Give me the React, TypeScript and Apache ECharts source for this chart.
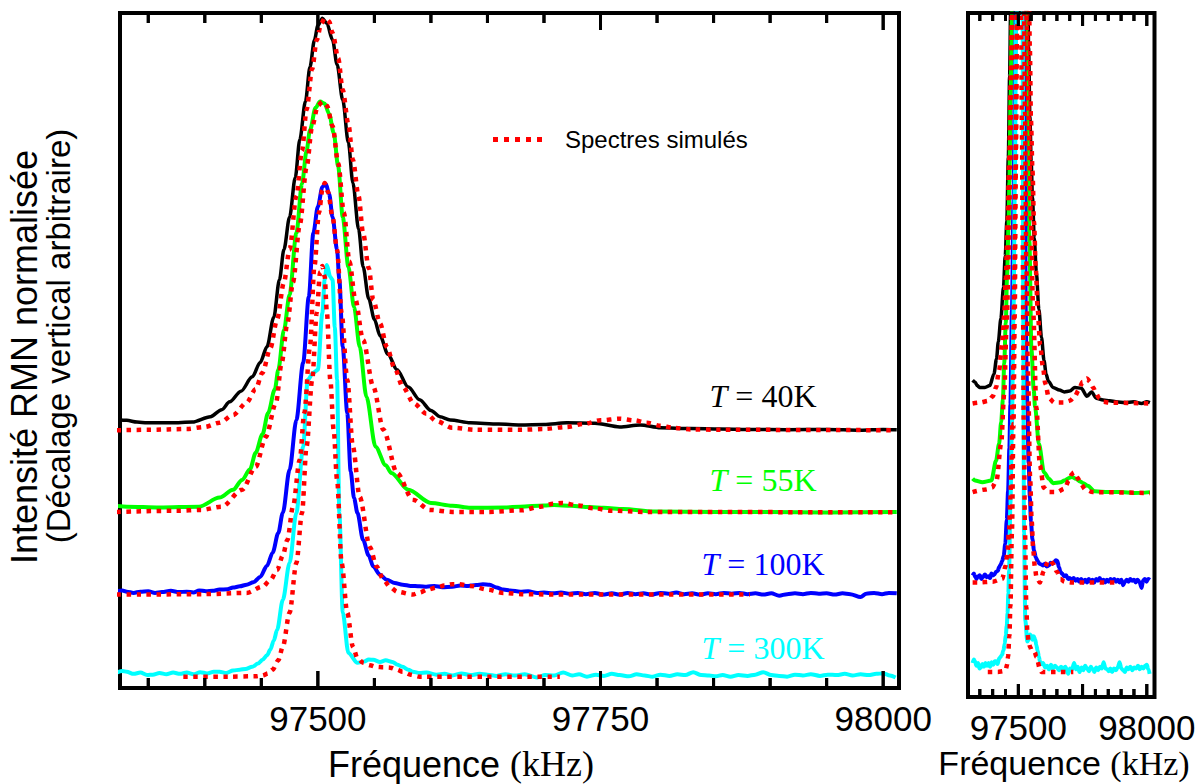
import React, { useEffect, useRef } from 'react';
import * as echarts from 'echarts';

// ---------- data (frequency kHz, normalised intensity) ----------
const temperatures = ['40K', '55K', '100K', '300K'];
const expColors = ['#000000', '#00ff00', '#0000ff', '#00ffff'];
const simColor = '#ff0000';
const mainOffsets = [0.6, 0.4, 0.2, 0];
const insetOffsets = [0.3, 0.2, 0.1, 0];

const exp40K = [
  [97322, 0.026], [97331, 0.024], [97340, 0.020], [97349, 0.018], [97370, 0.018], [97389, 0.020], [97405, 0.033],
  [97415, 0.050], [97422, 0.069], [97432, 0.095], [97442, 0.130], [97449, 0.165], [97455, 0.203], [97461, 0.275],
  [97466, 0.366], [97470, 0.440], [97475, 0.519], [97480, 0.615], [97484, 0.707], [97489, 0.800], [97493, 0.884],
  [97497, 0.950], [97500, 0.985], [97504, 1.003], [97508, 0.990], [97513, 0.950], [97517, 0.890], [97522, 0.804],
  [97527, 0.700], [97531, 0.602], [97536, 0.490], [97540, 0.398], [97545, 0.320], [97550, 0.270], [97555, 0.230],
  [97562, 0.185], [97570, 0.147], [97580, 0.105], [97590, 0.074], [97600, 0.048], [97608, 0.033], [97617, 0.025],
  [97635, 0.018], [97660, 0.015], [97679, 0.013], [97700, 0.014], [97720, 0.018], [97745, 0.017], [97767, 0.008],
  [97785, 0.013], [97803, 0.006], [97830, 0.004], [97856, 0.003], [97880, 0.002], [97915, 0.001], [97950, 0.002],
  [97980, 0.000], [98000, 0.002], [98012, 0.001],
];

const sim40K = [
  [97322, 0.000], [97350, 0.001], [97384, 0.003], [97400, 0.008], [97413, 0.018], [97425, 0.037], [97437, 0.067],
  [97445, 0.100], [97451, 0.140], [97458, 0.200], [97464, 0.270], [97470, 0.360], [97475, 0.440], [97481, 0.570],
  [97486, 0.680], [97490, 0.780], [97495, 0.880], [97499, 0.950], [97503, 0.990], [97506, 1.003], [97510, 0.995],
  [97513, 0.967], [97518, 0.905], [97522, 0.828], [97527, 0.745], [97531, 0.658], [97536, 0.570], [97540, 0.480],
  [97545, 0.395], [97549, 0.317], [97555, 0.260], [97561, 0.203], [97568, 0.150], [97575, 0.106], [97585, 0.065],
  [97596, 0.040], [97605, 0.022], [97619, 0.006], [97640, 0.001], [97679, 0.001], [97700, 0.003], [97720, 0.008],
  [97735, 0.015], [97750, 0.024], [97767, 0.028], [97780, 0.024], [97791, 0.018], [97803, 0.011], [97814, 0.006],
  [97830, 0.002], [97856, 0.001], [98010, 0.000],
];

const exp55K = [
  [97322, 0.016], [97331, 0.014], [97360, 0.012], [97395, 0.014], [97413, 0.036], [97425, 0.055], [97433, 0.079],
  [97440, 0.105], [97445, 0.145], [97451, 0.190], [97456, 0.242], [97462, 0.300], [97465, 0.347], [97470, 0.444],
  [97475, 0.530], [97481, 0.680], [97486, 0.800], [97490, 0.880], [97493, 0.930], [97498, 0.985], [97502, 1.000],
  [97506, 0.995], [97510, 0.970], [97514, 0.924], [97518, 0.841], [97522, 0.719], [97527, 0.598], [97532, 0.500],
  [97537, 0.403], [97543, 0.281], [97551, 0.160], [97560, 0.115], [97565, 0.096], [97580, 0.055], [97600, 0.023],
  [97619, 0.016], [97635, 0.011], [97665, 0.012], [97679, 0.014], [97700, 0.017], [97709, 0.018], [97724, 0.016],
  [97740, 0.013], [97753, 0.011], [97770, 0.008], [97797, 0.002], [97850, 0.001], [97900, 0.001], [97950, 0.000],
  [98012, 0.001],
];

const sim55K = [
  [97322, 0.001], [97375, 0.004], [97397, 0.006], [97415, 0.014], [97433, 0.055], [97445, 0.111], [97454, 0.184],
  [97463, 0.267], [97468, 0.364], [97473, 0.460], [97478, 0.560], [97484, 0.700], [97490, 0.840], [97495, 0.940],
  [97500, 0.990], [97504, 1.000], [97508, 0.990], [97513, 0.940], [97518, 0.850], [97523, 0.730], [97528, 0.610],
  [97533, 0.520], [97540, 0.420], [97549, 0.306], [97558, 0.201], [97570, 0.096], [97584, 0.031], [97599, 0.006],
  [97619, 0.001], [97650, 0.001], [97680, 0.005], [97697, 0.014], [97708, 0.021], [97716, 0.023], [97730, 0.017],
  [97744, 0.010], [97760, 0.004], [97790, 0.001], [98012, 0.000],
];

const exp100K = [
  [97322, 0.008], [97327, 0.010], [97331, 0.007], [97337, 0.004], [97343, 0.007], [97350, 0.008], [97356, 0.004],
  [97362, 0.006], [97370, 0.009], [97377, 0.006], [97384, 0.007], [97390, 0.005], [97395, 0.010], [97401, 0.008],
  [97407, 0.009], [97413, 0.012], [97420, 0.013], [97425, 0.017], [97431, 0.020], [97437, 0.024], [97443, 0.030],
  [97449, 0.043], [97455, 0.070], [97460, 0.102], [97465, 0.150], [97469, 0.199], [97475, 0.304], [97481, 0.425],
  [97487, 0.564], [97492, 0.725], [97496, 0.880], [97500, 0.944], [97504, 0.992], [97507, 1.000], [97510, 0.975],
  [97513, 0.919], [97517, 0.839], [97519, 0.766], [97522, 0.603], [97526, 0.442], [97529, 0.300], [97532, 0.235],
  [97535, 0.199], [97540, 0.133], [97545, 0.095], [97549, 0.068], [97555, 0.048], [97561, 0.036], [97568, 0.028],
  [97575, 0.024], [97582, 0.021], [97590, 0.020], [97596, 0.019], [97603, 0.021], [97610, 0.018], [97619, 0.019],
  [97626, 0.022], [97633, 0.021], [97640, 0.023], [97646, 0.025], [97652, 0.024], [97658, 0.017], [97664, 0.012],
  [97670, 0.010], [97679, 0.007], [97686, 0.008], [97694, 0.004], [97700, 0.005], [97708, 0.003], [97715, 0.005],
  [97723, 0.002], [97730, 0.004], [97737, 0.001], [97745, 0.004], [97752, 0.000], [97760, 0.003], [97767, 0.000],
  [97774, 0.004], [97781, 0.001], [97788, 0.003], [97795, 0.000], [97803, 0.004], [97810, 0.002], [97817, 0.005],
  [97824, 0.001], [97831, 0.003], [97838, 0.000], [97845, 0.003], [97852, 0.001], [97859, 0.004], [97866, 0.002],
  [97873, 0.004], [97880, 0.001], [97887, 0.003], [97894, 0.000], [97901, 0.003], [97908, -0.003], [97915, 0.001],
  [97922, 0.003], [97929, 0.001], [97936, 0.004], [97943, 0.002], [97950, 0.003], [97957, 0.000], [97964, 0.003],
  [97971, 0.001], [97980, -0.006], [97985, 0.002], [97992, 0.004], [97999, 0.001], [98005, 0.004], [98012, 0.003],
];

const sim100K = [
  [97322, 0.000], [97342, 0.000], [97400, 0.001], [97437, 0.004], [97451, 0.019], [97458, 0.035], [97464, 0.060],
  [97469, 0.095], [97473, 0.133], [97478, 0.214], [97484, 0.328], [97488, 0.442], [97493, 0.603], [97497, 0.800],
  [97501, 0.930], [97504, 0.985], [97506, 1.002], [97509, 0.980], [97513, 0.919], [97517, 0.839], [97521, 0.686],
  [97526, 0.523], [97531, 0.360], [97537, 0.238], [97546, 0.116], [97552, 0.068], [97558, 0.036], [97564, 0.018],
  [97570, 0.007], [97584, 0.000], [97590, 0.005], [97597, 0.012], [97605, 0.017], [97612, 0.022], [97619, 0.025],
  [97625, 0.025], [97635, 0.021], [97650, 0.012], [97664, 0.004], [97680, 0.001], [97708, 0.000], [97882, 0.000],
];

const exp300K = [
  [97322, 0.010], [97327, 0.014], [97331, 0.012], [97337, 0.007], [97343, 0.010], [97349, 0.004], [97354, 0.005],
  [97360, 0.009], [97366, 0.006], [97372, 0.010], [97378, 0.007], [97384, 0.010], [97390, 0.006], [97396, 0.011],
  [97402, 0.008], [97408, 0.012], [97413, 0.012], [97419, 0.009], [97425, 0.015], [97431, 0.017], [97436, 0.019],
  [97442, 0.024], [97447, 0.032], [97451, 0.041], [97455, 0.052], [97458, 0.066], [97461, 0.088], [97464, 0.114],
  [97469, 0.187], [97475, 0.277], [97481, 0.399], [97487, 0.560], [97491, 0.723], [97496, 0.740], [97500, 0.747],
  [97504, 0.886], [97506, 0.966], [97508, 1.002], [97511, 0.973], [97513, 0.966], [97515, 0.850], [97517, 0.723],
  [97519, 0.399], [97522, 0.156], [97527, 0.058], [97535, 0.034], [97541, 0.037], [97545, 0.042], [97549, 0.041],
  [97555, 0.036], [97560, 0.040], [97566, 0.036], [97570, 0.030], [97575, 0.024], [97580, 0.017], [97584, 0.012],
  [97590, 0.009], [97596, 0.010], [97605, 0.005], [97612, 0.007], [97619, 0.003], [97627, 0.008], [97635, 0.004],
  [97643, 0.007], [97650, 0.005], [97658, 0.002], [97666, 0.006], [97674, 0.003], [97683, 0.006], [97694, -0.002],
  [97701, 0.004], [97709, 0.003], [97717, 0.010], [97725, 0.003], [97731, 0.006], [97738, 0.000], [97746, 0.005],
  [97753, 0.002], [97760, 0.007], [97767, 0.004], [97775, 0.001], [97782, 0.006], [97789, 0.003], [97796, 0.000],
  [97803, 0.005], [97811, 0.002], [97818, 0.006], [97825, 0.004], [97832, 0.011], [97839, 0.004], [97846, 0.003],
  [97852, 0.001], [97858, 0.004], [97865, 0.000], [97872, 0.004], [97880, 0.002], [97887, 0.005], [97894, 0.011],
  [97901, 0.004], [97908, 0.002], [97915, 0.000], [97922, 0.005], [97929, 0.003], [97936, 0.006], [97944, 0.002],
  [97951, 0.005], [97959, 0.004], [97966, 0.007], [97973, 0.003], [97980, 0.006], [97987, 0.004], [97994, 0.007],
  [98000, 0.008], [98006, 0.003], [98011, -0.002],
];

const sim300K = [
  [97381, 0.000], [97420, 0.000], [97445, 0.001], [97451, 0.003], [97456, 0.008], [97460, 0.017], [97465, 0.040],
  [97469, 0.073], [97475, 0.156], [97481, 0.277], [97486, 0.399], [97490, 0.560], [97495, 0.723], [97499, 0.886],
  [97502, 0.985], [97504, 1.000], [97506, 0.975], [97508, 0.886], [97511, 0.723], [97514, 0.600], [97517, 0.479],
  [97521, 0.277], [97526, 0.156], [97531, 0.073], [97535, 0.045], [97540, 0.034], [97546, 0.028], [97552, 0.024],
  [97558, 0.023], [97564, 0.022], [97570, 0.017], [97575, 0.012], [97582, 0.005], [97590, 0.000], [97650, 0.000],
  [97714, 0.000],
];

// ---------- axis ticks / labels ----------
const mainTicks = [97350, 97400, 97450, 97500, 97550, 97600, 97650, 97700, 97750, 97800, 97850, 97900, 97950, 98000];
const mainMajorTicks = [97500, 97750, 98000];
const mainLabels = [97500, 97750, 98000];
const insetTicks = [97350, 97400, 97450, 97500, 97550, 97600, 97650, 97700, 97750, 97800, 97850, 97900, 97950, 98000];
const insetMajorTicks = [97500, 97750, 98000];
const insetLabels = [97500, 98000];

const expSets = [exp40K, exp55K, exp100K, exp300K];
const simSets = [sim40K, sim55K, sim100K, sim300K];
const expWidths = [3.5, 4, 4, 4];

const shift = (d: number[][], off: number) => d.map(([x, y]) => [x, y + off]);

const GRID_MAIN = { left: 120, top: 13, width: 779, height: 675 };
const GRID_INSET = { left: 968, top: 13, width: 186.5, height: 684 };
const MX0 = 97325, MX1 = 98014, IX0 = 97304, IX1 = 98030;
const MY0 = -0.0275, MY1 = 1.6156, IY0 = -0.0279, IY1 = 0.7363;

function labelAxis(gridIndex: number, min: number, max: number, labels: number[]) {
  return {
    type: 'value', gridIndex, position: 'bottom', min, max,
    axisLine: { show: false, onZero: false },
    splitLine: { show: false },
    axisTick: { show: false },
    axisLabel: {
      show: true, customValues: labels, fontSize: 35, fontFamily: 'Liberation Sans', color: '#000', margin: 16,
      lineHeight: 28, formatter: (v: number) => String(v),
    },
  };
}

function lineSeries(data: any[], xi: number, yi: number, color: string, width: number, dashed: boolean) {
  return {
    type: 'line', data, xAxisIndex: xi, yAxisIndex: yi,
    showSymbol: false, symbol: 'none', smooth: 0.3, smoothMonotone: 'x', clip: true, silent: true,
    lineStyle: { color, width, type: dashed ? [4.5, 5.5] : 'solid', cap: 'butt', join: 'round' },
    z: dashed ? 3 : 2,
  };
}

// frame edge with inward tick spikes, as one polyline per edge (bottom and top)
function edgeWithTicks(g: any, x0: number, x1: number, ticks: number[], majors: number[], minorLen: number, majorLen: number) {
  const toX = (v: number) => g.left + ((v - x0) / (x1 - x0)) * g.width;
  const bottom = g.top + g.height;
  const bPts: number[][] = [[g.left, bottom]];
  const tPts: number[][] = [[g.left, g.top]];
  ticks.forEach((v) => {
    const x = toX(v);
    const len = majors.includes(v) ? majorLen : minorLen;
    bPts.push([x, bottom], [x, bottom - len], [x, bottom]);
    tPts.push([x, g.top], [x, g.top + len], [x, g.top]);
  });
  bPts.push([g.left + g.width, bottom]);
  tPts.push([g.left + g.width, g.top]);
  return [
    { type: 'polyline', z: 30, shape: { points: bPts }, style: { stroke: '#000', lineWidth: 3, fill: null } },
    { type: 'polyline', z: 30, shape: { points: tPts }, style: { stroke: '#000', lineWidth: 3, fill: null } },
  ];
}

// same ticks as short two-point line series on the axis scales
function tickSeries(xi: number, yi: number, g: any, y0: number, y1: number, ticks: number[], majors: number[], minorLen: number, majorLen: number) {
  const perPx = (y1 - y0) / g.height;
  const out: any[] = [];
  ticks.forEach((v) => {
    const len = (majors.includes(v) ? majorLen : minorLen) * perPx;
    [[[v, y0], [v, y0 + len]], [[v, y1 - len], [v, y1]]].forEach((seg) => {
      out.push({
        type: 'line', data: seg, xAxisIndex: xi, yAxisIndex: yi,
        showSymbol: false, symbol: 'none', smooth: false, clip: false, silent: true, z: 6,
        lineStyle: { color: '#000', width: 3, type: 'solid', cap: 'butt' },
      });
    });
  });
  return out;
}

export default function App() {
  const ref = useRef<HTMLDivElement>(null);
  useEffect(() => {
    if (!ref.current) return;
    const chart = echarts.init(ref.current, undefined, { renderer: 'svg' });
    const series: any[] = [];
    expSets.forEach((d, i) => series.push(lineSeries(shift(d, mainOffsets[i]), 0, 0, expColors[i], expWidths[i], false)));
    simSets.forEach((d, i) => series.push(lineSeries(shift(d, mainOffsets[i]), 0, 0, simColor, 4.5, true)));
    expSets.forEach((d, i) => series.push(lineSeries(shift(d, insetOffsets[i]), 1, 1, expColors[i], expWidths[i], false)));
    simSets.forEach((d, i) => series.push(lineSeries(shift(d, insetOffsets[i]), 1, 1, simColor, 4.5, true)));
    series.push(...tickSeries(0, 0, GRID_MAIN, MY0, MY1, mainTicks, mainMajorTicks, 10, 17));
    series.push(...tickSeries(1, 1, GRID_INSET, IY0, IY1, insetTicks, insetMajorTicks, 8, 13));

    const tLabelY = [396, 480, 564, 648];
    const tLabels = temperatures.map((t, i) => ({
      type: 'text', x: 763, y: tLabelY[i], z: 10,
      style: {
        text: `{i|T}{n| = ${t}}`,
        align: 'center', verticalAlign: 'middle', textAlign: 'center', textVerticalAlign: 'middle',
        fill: expColors[i],
        rich: {
          i: { fontFamily: 'Liberation Serif', fontSize: 32, fontStyle: 'italic', fill: expColors[i] },
          n: { fontFamily: 'Liberation Serif', fontSize: 32, fill: expColors[i] },
        },
      },
    }));

    const graphic: any[] = [
      {
        type: 'text', x: 24.5, y: 357, rotation: Math.PI / 2, z: 10,
        style: { text: 'Intensité RMN normalisée', fontFamily: 'Liberation Sans', fontSize: 36, fill: '#000', align: 'center', verticalAlign: 'middle', textAlign: 'center', textVerticalAlign: 'middle' },
      },
      {
        type: 'text', x: 58, y: 336, rotation: Math.PI / 2, z: 10,
        style: { text: '(Décalage vertical arbitraire)', fontFamily: 'Liberation Sans', fontSize: 33, fill: '#000', align: 'center', verticalAlign: 'middle', textAlign: 'center', textVerticalAlign: 'middle' },
      },
      {
        type: 'line', z: 10,
        shape: { x1: 493, y1: 139.5, x2: 548, y2: 139.5 },
        style: { stroke: simColor, lineWidth: 5, lineDash: [5, 6] },
      },
      {
        type: 'text', x: 565, y: 139, z: 10,
        style: { text: 'Spectres simulés', fontFamily: 'Liberation Sans', fontSize: 24, fill: '#000', align: 'left', verticalAlign: 'middle', textAlign: 'left', textVerticalAlign: 'middle' },
      },
      ...tLabels,
      {
        type: 'text', x: 461, y: 764, z: 10,
        style: {
          text: '{s|Fréquence }{r|(kHz)}', align: 'center', verticalAlign: 'middle', textAlign: 'center', textVerticalAlign: 'middle',
          rich: {
            s: { fontFamily: 'Liberation Sans', fontSize: 36, fill: '#000' },
            r: { fontFamily: 'Liberation Serif', fontSize: 36, fill: '#000' },
          },
        },
      },
      {
        type: 'text', x: 1064, y: 763, z: 10,
        style: {
          text: '{s|Fréquence }{r|(kHz)}', align: 'center', verticalAlign: 'middle', textAlign: 'center', textVerticalAlign: 'middle',
          rich: {
            s: { fontFamily: 'Liberation Sans', fontSize: 34, fill: '#000' },
            r: { fontFamily: 'Liberation Serif', fontSize: 34, fill: '#000' },
          },
        },
      },
      ...edgeWithTicks(GRID_MAIN, MX0, MX1, mainTicks, mainMajorTicks, 10, 17),
      ...edgeWithTicks(GRID_INSET, IX0, IX1, insetTicks, insetMajorTicks, 8, 13),
    ];

    const option: any = {
      animation: false,
      backgroundColor: '#ffffff',
      grid: [
        { ...GRID_MAIN, show: true, borderColor: '#000', borderWidth: 4, backgroundColor: 'transparent' },
        { ...GRID_INSET, show: true, borderColor: '#000', borderWidth: 4, backgroundColor: 'transparent' },
      ],
      xAxis: [labelAxis(0, MX0, MX1, mainLabels), labelAxis(1, IX0, IX1, insetLabels)],
      yAxis: [
        { type: 'value', gridIndex: 0, min: MY0, max: MY1, show: false },
        { type: 'value', gridIndex: 1, min: IY0, max: IY1, show: false },
      ],
      series,
      graphic,
    };
    try {
      chart.setOption(option);
    } catch (e) {
      console.error(e);
    }
    return () => chart.dispose();
  }, []);
  return <div ref={ref} style={{ position: 'absolute', left: 0, top: 0, width: 1204, height: 784 }} />;
}
